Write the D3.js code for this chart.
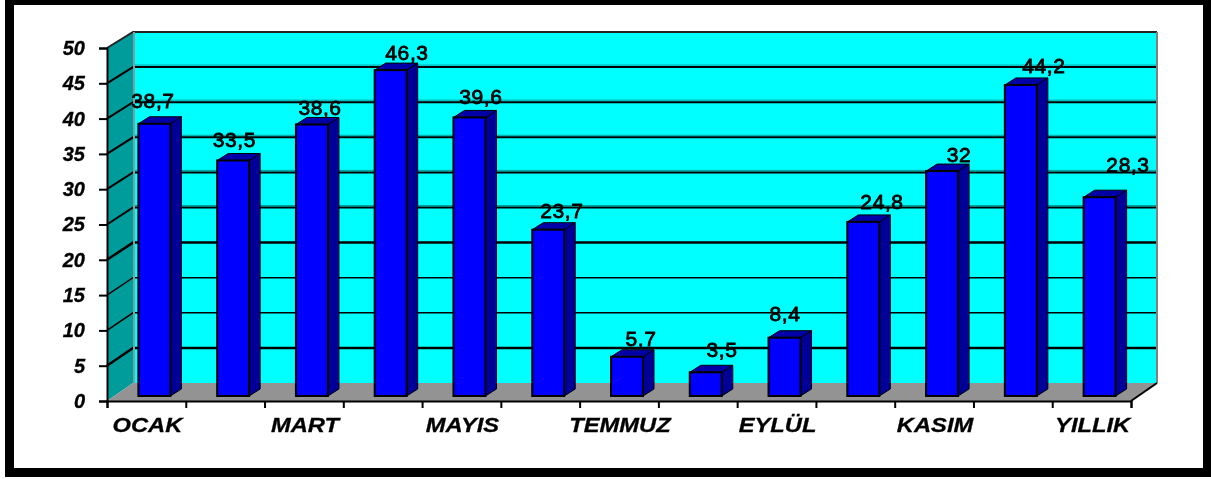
<!DOCTYPE html>
<html>
<head>
<meta charset="utf-8">
<script src="https://cdn.jsdelivr.net/npm/d3@7"></script>
<style>
html, body { margin: 0; padding: 0; background: #fff; }
svg { display: block; }
text { font-family: "Liberation Sans", Arial, sans-serif; fill: #000; }
</style>
</head>
<body>
<div id="chart"></div>
<script>
// monthly values, last one is the yearly figure
var categories = ["OCAK","ŞUBAT","MART","NİSAN","MAYIS","HAZİRAN","TEMMUZ","AĞUSTOS","EYLÜL","EKİM","KASIM","ARALIK","YILLIK"]
var values = [38.7,33.5,38.6,46.3,39.6,23.7,5.7,3.5,8.4,24.8,32,44.2,28.3]
var valueLabels = ["38,7","33,5","38,6","46,3","39,6","23,7","5,7","3,5","8,4","24,8","32","44,2","28,3"]
var shownCategories = ["OCAK","MART","MAYIS","TEMMUZ","EYLÜL","KASIM","YILLIK"]
var yTicks = [0,5,10,15,20,25,30,35,40,45,50]

// the value labels were dragged by hand in the original, so each has its own offset from the bar
var labelDX = [-1.4,1.3,8.1,16.3,11.5,13.7,14,16.2,0.4,18.7,16.9,23.1,28.4]
var labelDY = [-15.8,-13.5,-9.5,-10.1,-13.4,-11.7,-10.8,-15.3,-16.7,-12.9,-9.1,-11.9,-25.2]

var width = 1211, height = 479

var svg = d3.select("#chart").append("svg")
  .attr("width", width)
  .attr("height", height)

// soft edge on the text, the original is an upscaled bitmap
var blur = svg.append("defs").append("filter")
  .attr("id", "soft")
  .attr("x", "-5%").attr("y", "-10%").attr("width", "110%").attr("height", "120%")
blur.append("feGaussianBlur").attr("stdDeviation", 0.45)

// black frame of the picture
svg.append("rect")
  .attr("x", 9.5).attr("y", 0.5)
  .attr("width", 1198).attr("height", 472)
  .attr("fill", "#fff")
  .attr("stroke", "#000")
  .attr("stroke-width", 9)

var x = d3.scaleBand().domain(categories).range([107, 1131])
var xEdge = d3.scaleLinear().domain([0, categories.length]).range([107, 1131])
var y = d3.scaleLinear().domain([0, 50]).range([401, 48])
var yBack = d3.scaleLinear().domain([0, 50]).range([383, 32])

var depthX = 26
var left = x.range()[0], right = x.range()[1]

// where the bars stand inside the box
var barShiftX = 8, barShiftY = 5
var barW = 32, barDX = 11, barDY = 7

var line = d3.line()

// back wall
svg.append("rect")
  .attr("x", left + depthX).attr("y", yBack(50))
  .attr("width", right - left).attr("height", yBack(0) - yBack(50))
  .attr("fill", "#00ffff")

// left wall
svg.append("path")
  .attr("d", line([[left, y(0)], [left, y(50)], [left + depthX, yBack(50)], [left + depthX, yBack(0)]]) + "Z")
  .attr("fill", "#009c9c")

// floor
svg.append("path")
  .attr("d", line([[left, y(0)], [left + depthX, yBack(0)], [right + depthX, yBack(0)], [right, y(0)]]) + "Z")
  .attr("fill", "#939393")

// grid lines on both walls
yTicks.forEach(function (t) {
  if (t == 0) return
  if (t >= 25 && t < 50) {
    svg.append("line")
      .attr("x1", left + depthX).attr("x2", right + depthX)
      .attr("y1", yBack(t) - 2).attr("y2", yBack(t) - 2)
      .attr("stroke", "#00a0a0")
      .attr("stroke-width", 1)
  }
  svg.append("path")
    .attr("d", line([[left, y(t)], [left + depthX, yBack(t)], [right + depthX, yBack(t)]]))
    .attr("fill", "none")
    .attr("stroke", t == 50 ? "#222" : "#000")
    .attr("stroke-width", (t == 5 || t == 20) ? 2.5 : (t == 15 || t == 10) ? 1.5 : 2)
})

// wall edges
svg.append("line")
  .attr("x1", left + depthX + 1).attr("x2", left + depthX + 1)
  .attr("y1", yBack(50)).attr("y2", yBack(0))
  .attr("stroke", "#7f9f9f").attr("stroke-width", 2)
svg.append("line")
  .attr("x1", right + depthX).attr("x2", right + depthX)
  .attr("y1", yBack(50)).attr("y2", yBack(0))
  .attr("stroke", "#808080").attr("stroke-width", 2)
svg.append("line")
  .attr("x1", right).attr("x2", right + depthX)
  .attr("y1", y(0)).attr("y2", yBack(0))
  .attr("stroke", "#000").attr("stroke-width", 2)

// bars
var barBase = y(0) - barShiftY
function barLeft(d) { return x(d) + x.bandwidth() / 2 + barShiftX - barW / 2 }
function barTop(d) { return y(values[categories.indexOf(d)]) - barShiftY + 1 }

var bars = svg.selectAll(".bar")
  .data(categories)
  .enter().append("g")
    .attr("class", "bar")

bars.append("path")
  .attr("d", function (d) {
    var r = barLeft(d) + barW, t = barTop(d)
    return line([[r, barBase], [r, t], [r + barDX, t - barDY], [r + barDX, barBase - barDY]]) + "Z"
  })
  .attr("fill", "#000099")
  .attr("stroke", "#000").attr("stroke-width", 1)

bars.append("path")
  .attr("d", function (d) {
    var l = barLeft(d), t = barTop(d)
    return line([[l, t], [l + barDX, t - barDY], [l + barW + barDX, t - barDY], [l + barW, t]]) + "Z"
  })
  .attr("fill", "#0000a6")
  .attr("stroke", "#000").attr("stroke-width", 1)

bars.append("rect")
  .attr("x", barLeft)
  .attr("y", barTop)
  .attr("width", barW)
  .attr("height", function (d) { return barBase - barTop(d) })
  .attr("fill", "#0000ff")
  .attr("stroke", "#000").attr("stroke-width", 2)

// value labels
bars.append("text")
  .attr("x", function (d, i) { return barLeft(d) + barW / 2 + labelDX[i] })
  .attr("y", function (d, i) { return barTop(d) + labelDY[i] })
  .attr("text-anchor", "middle")
  .attr("filter", "url(#soft)")
  .style("font-size", "21px")
  .style("letter-spacing", "0.6px")
  .style("stroke", "#000").style("stroke-width", 0.8)
  .text(function (d, i) { return valueLabels[i] })

// axes
var gy = svg.append("g")
  .attr("transform", "translate(" + left + ",0)")
  .call(d3.axisLeft(y).tickValues(yTicks).tickSize(8).tickPadding(14))
gy.selectAll("path, line").attr("stroke", "#000").attr("stroke-width", 2)
gy.selectAll("text")
  .attr("fill", "#000")
  .attr("filter", "url(#soft)")
  .style("font-size", "20px").style("font-weight", "bold").style("font-style", "italic")
  .style("stroke", "#000").style("stroke-width", 0.3)

var gx = svg.append("g")
  .attr("transform", "translate(0," + y(0) + ")")
  .call(d3.axisBottom(xEdge).tickValues(d3.range(categories.length + 1)).tickSize(7).tickFormat(""))
gx.selectAll("path, line").attr("stroke", "#000").attr("stroke-width", 2)

gx.selectAll(".month")
  .data(shownCategories)
  .enter().append("text")
    .attr("class", "month")
    .attr("transform", function (d) {
      return "translate(" + (x(d) + x.bandwidth() / 2 + 1) + ",31) scale(1.13,1)"
    })
    .attr("text-anchor", "middle")
    .attr("filter", "url(#soft)")
    .style("font-size", "21px").style("font-weight", "bold").style("font-style", "italic")
    .style("stroke", "#000").style("stroke-width", 0.3)
    .text(function (d) { return d })
</script>
</body>
</html>
